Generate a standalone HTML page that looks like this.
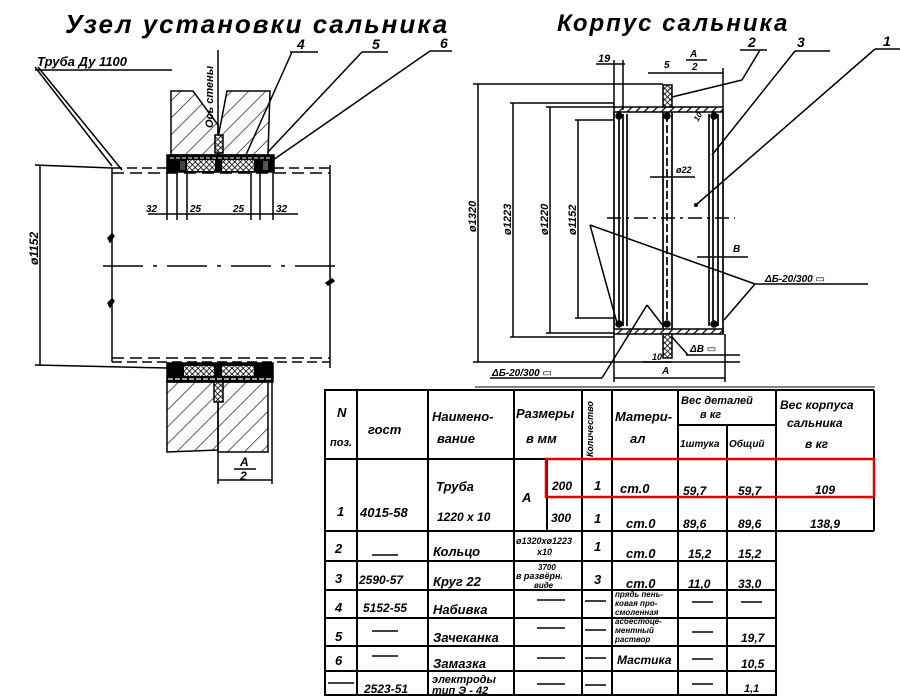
<!DOCTYPE html>
<html><head><meta charset="utf-8">
<style>
html,body{margin:0;padding:0;background:#fff;}
svg{display:block;}
text{font-family:"Liberation Sans","DejaVu Sans",sans-serif;font-style:italic;fill:#000;}
</style></head>
<body>
<svg width="900" height="700" viewBox="0 0 900 700" xmlns="http://www.w3.org/2000/svg">
<defs>
<pattern id="hatch" width="12" height="12" patternUnits="userSpaceOnUse" patternTransform="rotate(45)">
<line x1="0" y1="0" x2="0" y2="12" stroke="#000" stroke-width="1.3"/>
</pattern>
<pattern id="cross" width="4" height="4" patternUnits="userSpaceOnUse" patternTransform="rotate(45)">
<rect width="4" height="4" fill="#fff"/>
<line x1="0" y1="0" x2="0" y2="4" stroke="#000" stroke-width="1.6"/>
<line x1="0" y1="0" x2="4" y2="0" stroke="#000" stroke-width="1.6"/>
</pattern>
<pattern id="shell" width="6" height="6" patternUnits="userSpaceOnUse" patternTransform="rotate(45)">
<rect width="6" height="6" fill="#fff"/>
<line x1="0" y1="0" x2="0" y2="6" stroke="#000" stroke-width="2.5"/>
</pattern>
</defs>

<g stroke="#000" fill="none" stroke-width="1.5">
<!-- ===== LEFT DRAWING ===== -->
<text x="65" y="33" font-size="26" stroke="none" letter-spacing="2" font-weight="bold">Узел  установки  сальника</text>
<text x="37" y="66" font-size="13" stroke="none" font-weight="bold">Труба Ду 1100</text>
<line x1="35" y1="70" x2="172" y2="70"/>
<line x1="35" y1="67" x2="112" y2="166"/>
<line x1="38" y1="67" x2="122" y2="170"/>
<text x="297" y="49" font-size="14" stroke="none" font-weight="bold">4</text>
<line x1="290" y1="52" x2="318" y2="52"/>
<line x1="292" y1="52" x2="245" y2="157"/>
<text x="372" y="49" font-size="14" stroke="none" font-weight="bold">5</text>
<line x1="362" y1="52" x2="388" y2="52"/>
<line x1="362" y1="52" x2="268" y2="152"/>
<text x="440" y="48" font-size="14" stroke="none" font-weight="bold">6</text>
<line x1="430" y1="51" x2="452" y2="51"/>
<line x1="430" y1="51" x2="273" y2="160"/>

<!-- upper wall -->
<path d="M171 91 L193 91 L218 125 L218 155 L171 155 Z" fill="url(#hatch)"/>
<path d="M227 91 L270 91 L268 155 L218 155 L218 138 Z" fill="url(#hatch)"/>
<line x1="218" y1="50" x2="218" y2="150"/>
<rect x="215" y="135" width="8" height="18" fill="url(#cross)"/>
<text x="0" y="0" font-size="11" stroke="none" font-weight="bold" transform="translate(213 128) rotate(-90)">Ось стены</text>

<!-- upper sleeve -->
<rect x="167" y="155" width="107" height="17" fill="#000"/>
<line x1="170" y1="158" x2="271" y2="158" stroke="#fff" stroke-width="1" stroke-dasharray="4 2"/>
<rect x="187" y="160" width="28" height="11" fill="url(#cross)" stroke="none"/>
<rect x="222" y="160" width="32" height="11" fill="url(#cross)" stroke="none"/>
<rect x="180" y="161" width="5" height="9" fill="#444" stroke="none"/>
<rect x="263" y="161" width="5" height="9" fill="#555" stroke="none"/>

<!-- pipe -->
<line x1="112" y1="168" x2="167" y2="168" stroke-dasharray="10 5"/>
<line x1="112" y1="173" x2="330" y2="173" stroke-dasharray="12 6"/>
<line x1="274" y1="168" x2="330" y2="168" stroke-dasharray="10 5"/>
<line x1="112" y1="168" x2="112" y2="362"/>
<line x1="330" y1="165" x2="330" y2="368"/>
<line x1="112" y1="358" x2="330" y2="358" stroke-dasharray="12 6"/>
<line x1="112" y1="362" x2="330" y2="362" stroke-dasharray="10 5"/>
<line x1="103" y1="266" x2="342" y2="266" stroke-dasharray="40 10 4 10"/>
<path d="M108 238 l4 -4 l2 2 l-4 6 z M108 303 l4 -4 l2 2 l-4 6 z M326 283 l6 -4 l2 2 l-6 4z" fill="#000"/>
<!-- dia dim -->
<line x1="40" y1="165" x2="40" y2="365"/>
<line x1="35" y1="165" x2="112" y2="168"/>
<line x1="35" y1="365" x2="167" y2="368"/>
<text x="0" y="0" font-size="12" stroke="none" font-weight="bold" transform="translate(38 265) rotate(-90)">ø1152</text>
<!-- small dims -->
<line x1="167" y1="172" x2="167" y2="220"/>
<line x1="177" y1="172" x2="177" y2="220"/>
<line x1="187" y1="172" x2="187" y2="220"/>
<line x1="251" y1="172" x2="251" y2="220"/>
<line x1="260" y1="172" x2="260" y2="220"/>
<line x1="273" y1="172" x2="273" y2="220"/>
<line x1="148" y1="214" x2="298" y2="214"/>
<text x="146" y="212" font-size="10" stroke="none" font-weight="bold">32</text>
<text x="190" y="212" font-size="10" stroke="none" font-weight="bold">25</text>
<text x="233" y="212" font-size="10" stroke="none" font-weight="bold">25</text>
<text x="276" y="212" font-size="10" stroke="none" font-weight="bold">32</text>

<!-- lower sleeve -->
<rect x="167" y="363" width="106" height="19" fill="#000"/>
<rect x="184" y="366" width="30" height="10" fill="url(#cross)" stroke="none"/>
<rect x="222" y="366" width="32" height="10" fill="url(#cross)" stroke="none"/>
<line x1="168" y1="379" x2="272" y2="379" stroke="#fff" stroke-width="1.2" stroke-dasharray="5 2"/>
<path d="M167 382 L218 382 L218 450 L167 452 Z" fill="url(#hatch)"/>
<path d="M218 382 L268 382 L268 452 L218 452 Z" fill="url(#hatch)"/>
<rect x="214" y="382" width="9" height="20" fill="url(#cross)"/>
<line x1="218" y1="452" x2="218" y2="484"/>
<line x1="272" y1="382" x2="272" y2="484"/>
<line x1="218" y1="480" x2="272" y2="480"/>
<text x="240" y="466" font-size="12" stroke="none" font-weight="bold">A</text>
<line x1="234" y1="469" x2="256" y2="469"/>
<text x="240" y="480" font-size="12" stroke="none" font-weight="bold">2</text>

<!-- ===== RIGHT DRAWING ===== -->
<text x="557" y="31" font-size="24" stroke="none" letter-spacing="2" font-weight="bold">Корпус   сальника</text>
<rect x="614" y="107" width="109" height="5" fill="url(#shell)"/>
<rect x="614" y="329" width="109" height="5" fill="url(#shell)"/>
<rect x="663" y="85" width="9" height="22" fill="url(#cross)"/>
<rect x="663" y="334" width="9" height="24" fill="url(#cross)"/>
<g stroke-width="1.7">
<line x1="614" y1="112" x2="614" y2="329"/><line x1="619" y1="114" x2="619" y2="326"/>
<line x1="623" y1="114" x2="623" y2="326"/><line x1="627" y1="114" x2="627" y2="326"/>
<line x1="663" y1="112" x2="663" y2="329"/><line x1="667" y1="114" x2="667" y2="326" stroke-dasharray="8 3"/>
<line x1="672" y1="112" x2="672" y2="329"/>
<line x1="709" y1="114" x2="709" y2="326"/><line x1="713" y1="114" x2="713" y2="326"/>
<line x1="718" y1="114" x2="718" y2="326"/><line x1="723" y1="112" x2="723" y2="334"/>
</g>
<circle cx="619" cy="116" r="3" fill="#000"/><circle cx="619" cy="324" r="3" fill="#000"/>
<circle cx="667" cy="116" r="3" fill="#000"/><circle cx="667" cy="324" r="3" fill="#000"/>
<circle cx="714" cy="116" r="3" fill="#000"/><circle cx="714" cy="324" r="3" fill="#000"/>
<line x1="607" y1="218" x2="735" y2="218" stroke-dasharray="14 5 3 5"/>
<!-- dims -->
<line x1="478" y1="84" x2="478" y2="362"/>
<line x1="473" y1="84" x2="663" y2="84"/>
<line x1="473" y1="362" x2="740" y2="362"/>
<text x="0" y="0" font-size="11" stroke="none" font-weight="bold" transform="translate(476 232) rotate(-90)">ø1320</text>
<line x1="513" y1="103" x2="513" y2="337"/>
<line x1="510" y1="103" x2="614" y2="103"/>
<line x1="510" y1="337" x2="614" y2="337"/>
<text x="0" y="0" font-size="11" stroke="none" font-weight="bold" transform="translate(511 235) rotate(-90)">ø1223</text>
<line x1="550" y1="107" x2="550" y2="333"/>
<line x1="546" y1="107" x2="614" y2="107"/>
<line x1="546" y1="333" x2="614" y2="333"/>
<text x="0" y="0" font-size="11" stroke="none" font-weight="bold" transform="translate(548 235) rotate(-90)">ø1220</text>
<line x1="578" y1="120" x2="578" y2="318"/>
<line x1="575" y1="120" x2="614" y2="120"/>
<line x1="575" y1="318" x2="614" y2="318"/>
<text x="0" y="0" font-size="11" stroke="none" font-weight="bold" transform="translate(576 235) rotate(-90)">ø1152</text>
<text x="598" y="62" font-size="11" stroke="none" font-weight="bold">19</text>
<line x1="596" y1="64" x2="625" y2="64"/>
<line x1="614" y1="60" x2="614" y2="107"/><line x1="623" y1="60" x2="623" y2="110"/>
<text x="664" y="68" font-size="10" stroke="none" font-weight="bold">5</text>
<line x1="648" y1="73" x2="723" y2="73"/>
<line x1="723" y1="68" x2="723" y2="107"/>
<text x="690" y="57" font-size="10" stroke="none" font-weight="bold">A</text><line x1="686" y1="60" x2="707" y2="60"/><text x="692" y="70" font-size="10" stroke="none" font-weight="bold">2</text>
<text x="748" y="47" font-size="14" stroke="none" font-weight="bold">2</text>
<line x1="740" y1="50" x2="767" y2="50"/>
<line x1="760" y1="50" x2="742" y2="80"/><line x1="742" y1="80" x2="672" y2="97"/>
<text x="797" y="47" font-size="14" stroke="none" font-weight="bold">3</text>
<line x1="795" y1="51" x2="830" y2="51"/>
<line x1="795" y1="51" x2="712" y2="155"/>
<text x="883" y="46" font-size="14" stroke="none" font-weight="bold">1</text>
<line x1="875" y1="49" x2="900" y2="49"/>
<line x1="875" y1="49" x2="697" y2="204"/>
<circle cx="696" cy="205" r="1.3" fill="#000"/>
<text x="676" y="173" font-size="9" stroke="none" font-weight="bold">ø22</text>
<line x1="650" y1="177" x2="695" y2="177"/>
<text x="0" y="0" font-size="8" stroke="none" font-weight="bold" transform="translate(698 122) rotate(-60)">10</text>
<text x="733" y="252" font-size="10" stroke="none" font-weight="bold">B</text>
<line x1="697" y1="257" x2="748" y2="257"/>
<text x="765" y="282" font-size="10" stroke="none" font-weight="bold">ΔБ-20/300 ▭</text>
<line x1="755" y1="284" x2="868" y2="284"/>
<line x1="755" y1="284" x2="590" y2="225"/>
<line x1="590" y1="225" x2="617" y2="323"/>
<line x1="755" y1="284" x2="724" y2="320"/>
<text x="492" y="376" font-size="10" stroke="none" font-weight="bold">ΔБ-20/300 ▭</text>
<line x1="490" y1="378" x2="602" y2="378"/>
<line x1="602" y1="378" x2="647" y2="305"/>
<line x1="647" y1="305" x2="664" y2="327"/>
<text x="690" y="352" font-size="10" stroke="none" font-weight="bold">ΔB ▭</text>
<line x1="672" y1="337" x2="688" y2="355"/>
<line x1="686" y1="355" x2="740" y2="355"/>
<text x="652" y="360" font-size="9" stroke="none" font-weight="bold">10</text>
<line x1="643" y1="362" x2="672" y2="362"/>
<text x="662" y="374" font-size="10" stroke="none" font-weight="bold">A</text>
<line x1="614" y1="334" x2="614" y2="382"/>
<line x1="725" y1="334" x2="725" y2="382"/>
<line x1="614" y1="378" x2="725" y2="378"/>
<line x1="475" y1="387" x2="875" y2="387" stroke-width="1"/>

<!-- ===== TABLE ===== -->
<g stroke-width="2">
<rect x="325" y="390" width="451" height="305"/>
<line x1="776" y1="390" x2="874" y2="390"/>
<line x1="874" y1="390" x2="874" y2="531"/>
<line x1="776" y1="531" x2="874" y2="531"/>
<line x1="357" y1="390" x2="357" y2="695"/>
<line x1="428" y1="390" x2="428" y2="695"/>
<line x1="514" y1="390" x2="514" y2="695"/>
<line x1="547" y1="459" x2="547" y2="531"/>
<line x1="582" y1="390" x2="582" y2="695"/>
<line x1="612" y1="390" x2="612" y2="695"/>
<line x1="678" y1="390" x2="678" y2="695"/>
<line x1="727" y1="425" x2="727" y2="695"/>
<line x1="678" y1="425" x2="776" y2="425"/>
<line x1="325" y1="459" x2="874" y2="459"/>
<line x1="547" y1="497" x2="874" y2="497"/>
<line x1="325" y1="531" x2="776" y2="531"/>
<line x1="325" y1="561" x2="776" y2="561"/>
<line x1="325" y1="590" x2="776" y2="590"/>
<line x1="325" y1="618" x2="776" y2="618"/>
<line x1="325" y1="646" x2="776" y2="646"/>
<line x1="325" y1="671" x2="776" y2="671"/>
</g>
<rect x="546" y="459" width="328" height="38" stroke="#e00000" stroke-width="2.5"/>
<g stroke-width="1.5">
<line x1="372" y1="555" x2="398" y2="555"/>
<line x1="372" y1="631" x2="398" y2="631"/>
<line x1="372" y1="656" x2="398" y2="656"/>
<line x1="328" y1="683" x2="354" y2="683"/>
<line x1="537" y1="600" x2="565" y2="600"/><line x1="537" y1="628" x2="565" y2="628"/>
<line x1="537" y1="658" x2="565" y2="658"/><line x1="537" y1="684" x2="565" y2="684"/>
<line x1="585" y1="601" x2="606" y2="601"/><line x1="585" y1="630" x2="606" y2="630"/>
<line x1="585" y1="658" x2="606" y2="658"/><line x1="585" y1="685" x2="606" y2="685"/>
<line x1="692" y1="602" x2="713" y2="602"/><line x1="741" y1="602" x2="762" y2="602"/>
<line x1="692" y1="632" x2="713" y2="632"/><line x1="692" y1="659" x2="713" y2="659"/>
<line x1="692" y1="684" x2="713" y2="684"/>
</g>
</g>

<g font-size="13" stroke="none" font-weight="bold">
<text x="337" y="417">N</text><text x="330" y="446" font-size="11">поз.</text>
<text x="368" y="434">гост</text>
<text x="432" y="421">Наимено-</text><text x="437" y="443">вание</text>
<text x="516" y="418">Размеры</text><text x="526" y="443">в мм</text>
<text x="0" y="0" font-size="9" transform="translate(593 457) rotate(-90)">Количество</text>
<text x="615" y="421">Матери-</text><text x="630" y="443">ал</text>
<text x="681" y="404" font-size="11">Вес деталей</text><text x="700" y="418" font-size="11">в кг</text>
<text x="680" y="447" font-size="10">1штука</text><text x="729" y="447" font-size="10">Общий</text>
<text x="780" y="409" font-size="12">Вес корпуса</text><text x="787" y="427" font-size="12">сальника</text><text x="805" y="448" font-size="12">в кг</text>

<text x="337" y="516">1</text><text x="360" y="517">4015-58</text>
<text x="436" y="491">Труба</text><text x="437" y="521" font-size="12">1220 x 10</text>
<text x="522" y="502">А</text>
<text x="552" y="490" font-size="12">200</text><text x="551" y="522" font-size="12">300</text>
<text x="594" y="490">1</text><text x="594" y="523">1</text>
<text x="620" y="493">ст.0</text><text x="626" y="528">ст.0</text>
<text x="683" y="495" font-size="12">59,7</text><text x="738" y="495" font-size="12">59,7</text>
<text x="815" y="494" font-size="12">109</text>
<text x="683" y="528" font-size="12">89,6</text><text x="738" y="528" font-size="12">89,6</text>
<text x="810" y="528" font-size="12">138,9</text>

<text x="335" y="553">2</text><text x="433" y="556">Кольцо</text>
<text x="516" y="544" font-size="9">ø1320xø1223</text><text x="537" y="555" font-size="9">x10</text>
<text x="594" y="551">1</text><text x="626" y="558">ст.0</text>
<text x="688" y="558" font-size="12">15,2</text><text x="738" y="558" font-size="12">15,2</text>

<text x="335" y="583">3</text><text x="359" y="584" font-size="12">2590-57</text><text x="433" y="586">Круг 22</text>
<text x="538" y="570" font-size="8">3700</text><text x="516" y="579" font-size="9">в развёрн.</text><text x="534" y="588" font-size="8">виде</text>
<text x="594" y="584">3</text><text x="626" y="588">ст.0</text>
<text x="688" y="588" font-size="12">11,0</text><text x="738" y="588" font-size="12">33,0</text>

<text x="335" y="612">4</text><text x="363" y="612" font-size="12">5152-55</text><text x="433" y="614">Набивка</text>
<text x="615" y="597" font-size="8">прядь пень-</text><text x="615" y="606" font-size="8">ковая про-</text><text x="615" y="615" font-size="8">смоленная</text>

<text x="335" y="641">5</text><text x="433" y="642">Зачеканка</text>
<text x="615" y="624" font-size="8">асбестоце-</text><text x="615" y="633" font-size="8">ментный</text><text x="615" y="642" font-size="8">раствор</text>
<text x="741" y="642" font-size="12">19,7</text>

<text x="335" y="665">6</text><text x="433" y="668">Замазка</text>
<text x="617" y="664" font-size="12">Мастика</text>
<text x="741" y="668" font-size="12">10,5</text>

<text x="364" y="693" font-size="12">2523-51</text>
<text x="432" y="683" font-size="11">электроды</text><text x="432" y="694" font-size="11">тип Э - 42</text>
<text x="744" y="692" font-size="11">1,1</text>
</g>
</svg>
</body></html>
